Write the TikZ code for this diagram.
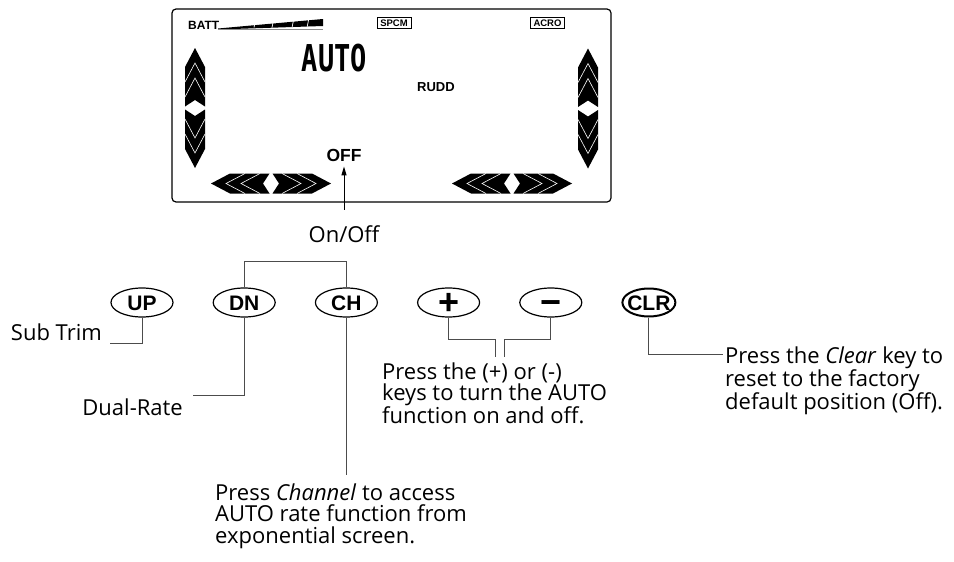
\documentclass[tikz,border=0pt]{standalone}
\usepackage{fontspec}
\setmainfont{Open Sans}
\newfontfamily\lcdfont{Liberation Sans}
\newfontfamily\segfont{DejaVu Sans Mono}
\usetikzlibrary{
	arrows.meta,
	positioning,
	shapes.geometric
}

% double chevron of the LCD trim bars
\tikzset{
	chevpair/.pic={
		\foreach \s in {1,-1}{
			\fill[xscale=\s] (-60,0) -- (-41,-10) -- (-1.5,-10) -- (-8,0) -- (-1.5,10) -- (-41,10) -- cycle;
			\draw[white, line width=.6pt, xscale=\s] (-26,-10) -- (-45,0) -- (-26,10) (-11,-10) -- (-30,0) -- (-11,10);
		}
	}
}

\begin{document}
\begin{tikzpicture}[
			x=1pt, y=-1pt,
			lcdtxt/.style={font=\lcdfont\bfseries\fontsize{#1}{#1}\selectfont, inner sep=0pt},
			tag/.style={lcdtxt=9.5, draw, line width=.8pt, minimum width=34pt, minimum height=10.5pt},
			btn/.style={ellipse, draw, line width=1.2pt, minimum width=62pt, minimum height=29pt, inner sep=0pt,
				font=\lcdfont\bfseries\fontsize{21}{21}\selectfont, text height=15pt, text depth=0pt},
			sign/.style={btn, font=\lcdfont\bfseries\fontsize{36}{36}\selectfont, text height=24.5pt, inner ysep=-2.2pt},
			clrbtn/.style={btn, line width=2pt, minimum width=53pt, minimum height=28pt, inner xsep=-4pt},
			txt/.style={font=\fontsize{22}{21.5}\selectfont, inner sep=0pt, align=left},
			wire/.style={draw=black!70, line width=.9pt},
			fl/.style={-{Triangle[length=9pt,width=5pt]}, line width=1pt}
		]
		\useasboundingbox (0,0) rectangle (954,562);

		% LCD screen
		\node[draw, rounded corners=4pt, line width=1.2pt, minimum width=439pt, minimum height=193pt] (lcd) at (391.5,105.5) {};
		\node[lcdtxt=12, anchor=base west] (batt) at (188,29.3) {BATT};
		\fill (218,28.5) -- (323,19) -- (323,26) -- (218,29.5) -- cycle;
		\draw[black!45, line width=.8pt] (218,29.6) -- (323,29.6);
		\foreach \t in {255,273,293,308}
			\draw[white, line width=.7pt] (\t-1,27.5) -- (\t+1,18);
		\node[tag] (spcm) at (394,23) {SPCM};
		\node[tag] (acro) at (547.5,23) {ACRO};
		\node[font=\segfont\bfseries\fontsize{37}{37}\selectfont, inner sep=0pt] (auto) at (334.5,58.5) {\scalebox{.73}[1]{AUTO}};
		\node[lcdtxt=13] (rudd) at (436,87) {RUDD};
		\node[lcdtxt=17.5] (off) at (344,155) {OFF};
		\pic at (271,183.5) {chevpair};
		\pic at (512,183.5) {chevpair};
		\pic[rotate=90] at (195,108) {chevpair};
		\pic[rotate=90] at (588,108.5) {chevpair};

		\node[txt, anchor=base] (onoff) at (344,242) {On/Off};
		\draw[fl] ([yshift=15pt]onoff.north) -- ([yshift=-5pt]off.south);

		% keys
		\node[btn] (up) at (142,302.5) {UP};
		\node[btn, right=39pt of up] (dn) {DN};
		\node[btn, right=39pt of dn] (ch) {CH};
		\node[sign, right=39pt of ch] (plus) {+};
		\node[sign, right=39pt of plus] (minus) {−};
		\node[clrbtn, right=39pt of minus] (clr) {CLR};

		\draw[wire] (dn.north) -- ++(0,-26) -| (ch.north);

		\coordinate (subend) at (110,343);
		\draw[wire] (up.south) |- (subend);
		\node[txt, anchor=base east] (subtrim) at (102,340) {Sub Trim};

		\coordinate (drend) at (193,395);
		\draw[wire] (dn.south) |- (drend);
		\node[txt, anchor=base east] (dual) at (183,415) {Dual-Rate};

		\coordinate (chend) at (347,475);
		\draw[wire] (ch.south) -- (ch.south |- chend);
		\node[txt, anchor=north west] (chtxt) at (215,483.3) {Press \textit{Channel} to access\\AUTO rate function from\\exponential screen.};

		\coordinate (pa) at (495,357);
		\coordinate (pb) at (504,357);
		\draw[wire] (plus.south) -- ++(0,22) -| (pa);
		\draw[wire] (minus.south) -- ++(0,22) -| (pb);
		\node[txt, anchor=north west] (pmtxt) at (382,362.3) {Press the (+) or (-)\\keys to turn the AUTO\\function on and off.};

		\coordinate (clrend) at (723,354);
		\draw[wire] (clr.south) |- (clrend);
		\node[txt, anchor=north west] (clrtxt) at (725,346.3) {Press the \textit{Clear} key to\\reset to the factory\\default position (Off).};
	\end{tikzpicture}
\end{document}
